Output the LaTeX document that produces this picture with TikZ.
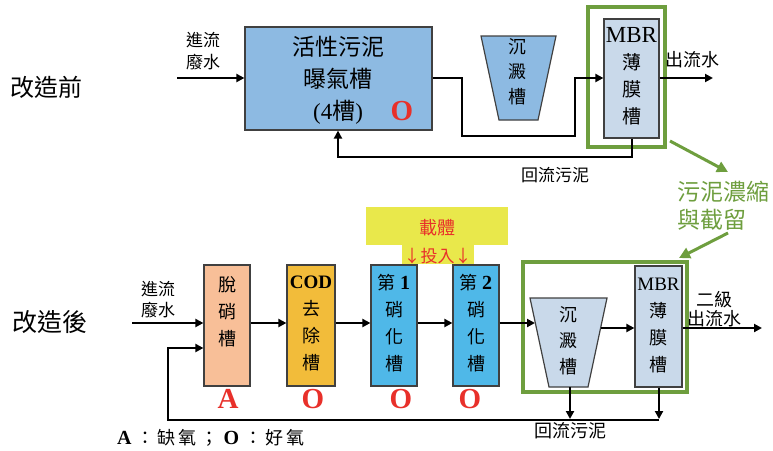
\documentclass[tikz,border=0pt]{standalone}
\usepackage{fontspec}
\setmainfont{Liberation Serif}
\newfontfamily\cjk{Noto Sans CJK TC}
\usetikzlibrary{arrows.meta}
\definecolor{bigblue}{HTML}{8DBAE2}
\definecolor{paleblue}{HTML}{C9D9EA}
\definecolor{peach}{HTML}{F8BF98}
\definecolor{codor}{HTML}{F2BC3A}
\definecolor{nitblue}{HTML}{4FB8E8}
\definecolor{mgreen}{HTML}{6E9E3E}
\definecolor{mred}{HTML}{E8302A}
\definecolor{myellow}{HTML}{E9E84B}
\begin{document}
\begin{tikzpicture}[x=1pt,y=-1pt,
  tank/.style={draw=black!75,line width=1.2pt,inner sep=0pt},
  txt/.style={inner sep=0pt,align=center,font=\cjk\fontsize{18}{27}\selectfont},
  lbl/.style={inner sep=0pt,align=center,font=\cjk\fontsize{17}{22}\selectfont},
  flow/.style={line width=2.2pt,-{Triangle[length=8pt,width=8pt]}},
  greenbox/.style={draw=mgreen,line width=4pt,inner sep=0pt},
  garrow/.style={draw=mgreen,line width=3pt,-{Triangle[length=11pt,width=11pt]}},
  redmark/.style={inner sep=0pt,text=mred,font=\bfseries\fontsize{29}{29}\selectfont},
  title/.style={inner sep=0pt,font=\cjk\fontsize{24}{24}\selectfont}
]
\useasboundingbox (0,0) rectangle (773,450);

% ---------- before ----------
\node[title] (before) at (46,87) {改造前};
\node[lbl] (in1) at (203,51) {進流\\廢水};
\coordinate (in1s) at (177,78);
\node[tank,fill=bigblue,minimum width=187pt,minimum height=103pt] (as) at (338.5,78.5) {};
\node[txt,font=\cjk\fontsize{23}{32}\selectfont] (ast) at (338,80) {活性污泥\\曝氣槽\\{\rmfamily(4}槽{\rmfamily)}};
\node[redmark] (o0) at (402,111) {O};

% sedimentation (top)
\coordinate (s1a) at (481,36);
\coordinate (s1b) at (556,36);
\coordinate (s1c) at (538,120);
\coordinate (s1d) at (499,120);
\draw[draw=black!75,line width=1.2pt,fill=bigblue] (s1a) -- (s1b) -- (s1c) -- (s1d) -- cycle;
\node[txt,font=\cjk\fontsize{18}{25}\selectfont] (s1t) at (517,72) {沉\\澱\\槽};

% MBR (top)
\node[greenbox,minimum width=77pt,minimum height=140pt] (g1) at (626.5,77) {};
\node[tank,fill=paleblue,minimum width=55pt,minimum height=119pt] (mbr1) at (631.5,78.5) {};
\node[txt,font=\cjk\fontsize{19}{27}\selectfont] (mbr1t) at (631.5,76) {{\rmfamily\fontsize{23}{27}\selectfont MBR}\\薄\\膜\\槽};
\coordinate (out1) at (713,78);
\node[lbl,font=\cjk\fontsize{18}{20}\selectfont] (out1t) at (692,60) {出流水};

\draw[flow] (in1s) -- (in1s -| as.west);
\draw[flow] (as.east |- 0,78) -- (462,78) -- (462,136) -- (575,136) -- (575,78) -- (mbr1.west |- 0,78);
\draw[flow] (mbr1.east |- 0,78) -- (out1);
\draw[flow] (mbr1.south -| 632,0) -- (632,157) -- (338,157) -- (338,0 |- as.south);
\node[lbl] (ret1) at (555,175) {回流污泥};

% green notes
\node[inner sep=0pt,align=left,anchor=west,text=mgreen,font=\cjk\fontsize{23}{28}\selectfont] (gnote) at (677,206) {污泥濃縮\\與截留};
\coordinate (ga1) at (670,141);
\coordinate (gb1) at (728,172);
\draw[garrow] (ga1) -- (gb1);
\coordinate (ga2) at (728,233);
\coordinate (gb2) at (679,258);
\draw[garrow] (ga2) -- (gb2);

% ---------- after ----------
\node[title,font=\cjk\fontsize{25}{25}\selectfont] (after) at (50,322) {改造後};
\node[lbl,font=\cjk\fontsize{17}{21}\selectfont] (in2) at (158,300) {進流\\廢水};
\coordinate (in2s) at (132,323);

\node[tank,fill=peach,minimum width=46pt,minimum height=121pt] (dn) at (227,325.5) {};
\node[txt,anchor=north] (dnt) at (227,276) {脫\\硝\\槽};
\node[tank,fill=codor,minimum width=48pt,minimum height=121pt] (cod) at (311,325.5) {};
\node[txt,anchor=north] (codt) at (311,276) {{\rmfamily\bfseries\fontsize{19}{27}\selectfont COD}\\去\\除\\槽};
\node[tank,fill=nitblue,minimum width=46pt,minimum height=121pt] (n1) at (394,325.5) {};
\node[txt,anchor=north] (n1t) at (394,274) {第 {\rmfamily\bfseries\fontsize{20}{27}\selectfont 1}\\硝\\化\\槽};
\node[tank,fill=nitblue,minimum width=46pt,minimum height=121pt] (n2) at (476,325.5) {};
\node[txt,anchor=north] (n2t) at (476,274) {第 {\rmfamily\bfseries\fontsize{20}{27}\selectfont 2}\\硝\\化\\槽};

\node[redmark] (ra) at (228,399) {A};
\node[redmark] (ro1) at (313,399) {O};
\node[redmark] (ro2) at (401,399) {O};
\node[redmark] (ro3) at (470,399) {O};

% carrier
\node[fill=myellow,minimum width=142pt,minimum height=38pt,inner sep=0pt] (carrier) at (436.5,226) {};
\node[fill=myellow,minimum width=72pt,minimum height=19pt,inner sep=0pt,anchor=north] (dose) at (437.5,244.5) {};
\node[inner sep=0pt,text=mred,font=\cjk\fontsize{18}{18}\selectfont] (cart) at (437,228) {載體};
\node[inner sep=0pt,text=mred,font=\cjk\fontsize{17}{17}\selectfont] (doset) at (437.5,256) {↓投入↓};

% green box bottom
\node[greenbox,minimum width=164pt,minimum height=130pt] (g2) at (605,327) {};
% sedimentation (bottom)
\coordinate (s2a) at (530,298);
\coordinate (s2b) at (607,298);
\coordinate (s2c) at (588,387);
\coordinate (s2d) at (549,387);
\draw[draw=black!75,line width=1.2pt,fill=paleblue] (s2a) -- (s2b) -- (s2c) -- (s2d) -- cycle;
\node[txt,font=\cjk\fontsize{18}{26}\selectfont] (s2t) at (568,341) {沉\\澱\\槽};
\coordinate (s2in) at (535,323);
\coordinate (s2out) at (601,328);
\coordinate (s2bot) at (570,387);

\node[tank,fill=paleblue,minimum width=47pt,minimum height=121pt] (mbr2) at (658.5,326.5) {};
\node[txt,anchor=north] (mbr2t) at (658.5,278) {{\rmfamily\fontsize{19}{27}\selectfont MBR}\\薄\\膜\\槽};
\coordinate (out2) at (762,328);
\node[lbl,font=\cjk\fontsize{18}{19}\selectfont] (out2t) at (714,309) {二級\\出流水};

\draw[flow] (in2s) -- (in2s -| dn.west);
\draw[flow] (dn.east |- 0,323) -- (cod.west |- 0,323);
\draw[flow] (cod.east |- 0,323) -- (n1.west |- 0,323);
\draw[flow] (n1.east |- 0,323) -- (n2.west |- 0,323);
\draw[flow] (n2.east |- 0,323) -- (s2in);
\draw[flow] (s2out) -- (s2out -| mbr2.west);
\draw[flow] (mbr2.east |- 0,328) -- (out2);
\draw[flow] (s2bot) -- (570,419);
\draw[flow] (mbr2.south -| 659,0) -- (659,419);
\draw[flow] (659,420) -- (168,420) -- (168,348) -- (168,348 -| dn.west);
\node[lbl,font=\cjk\fontsize{18}{20}\selectfont] (ret2) at (570,431) {回流污泥};

\node[inner sep=0pt,anchor=west,font=\cjk\fontsize{18}{18}\selectfont] (legend) at (117,438) {{\rmfamily\bfseries\fontsize{20}{20}\selectfont A}\hspace{5pt}：\hspace{3pt}缺\hspace{3pt}氧\hspace{4pt}；\hspace{5pt}{\rmfamily\bfseries\fontsize{20}{20}\selectfont O}\hspace{5pt}：\hspace{3pt}好\hspace{3pt}氧};
\end{tikzpicture}
\end{document}
